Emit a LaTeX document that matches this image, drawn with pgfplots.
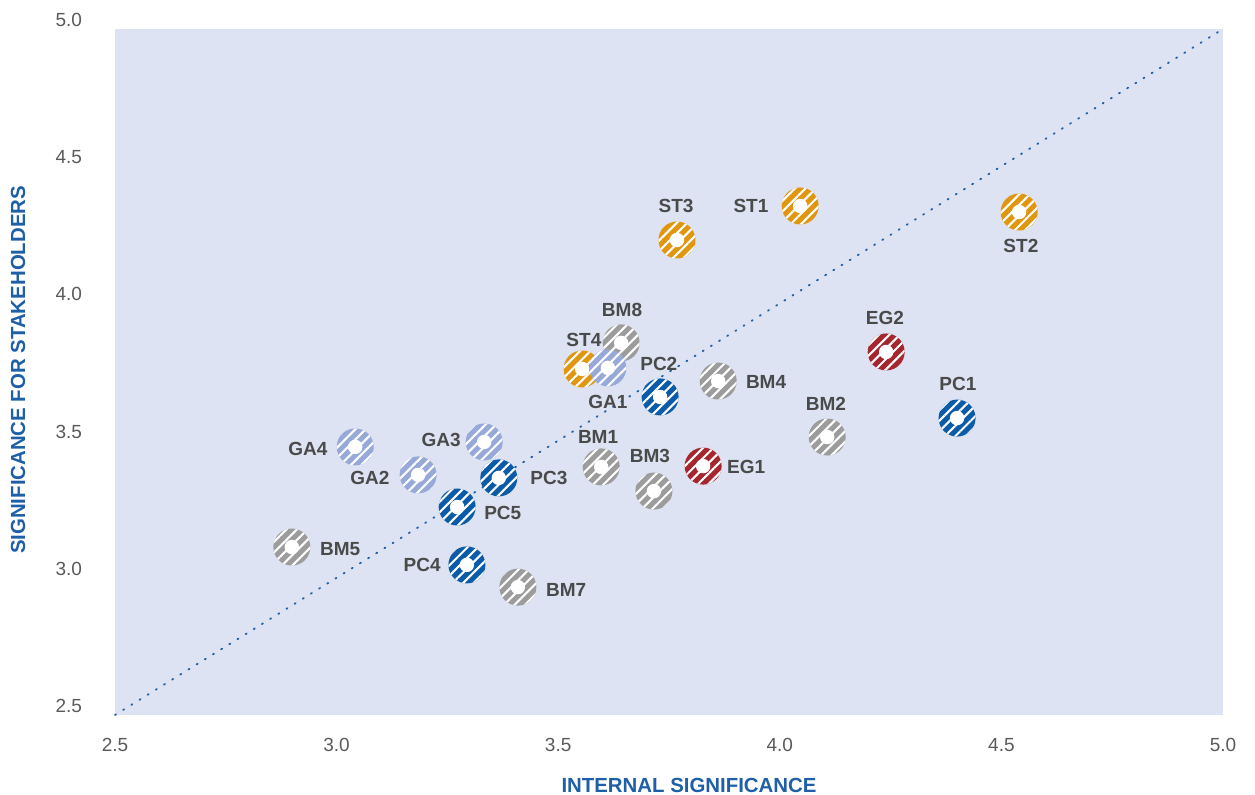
\documentclass[border=0pt]{standalone}
\usepackage{pgfplots}
\pgfplotsset{compat=1.18}
\usepackage{pgfplotstable}
\usepackage{fontspec}
\setmainfont{Liberation Sans}
\usetikzlibrary{patterns.meta}
\definecolor{bg}{HTML}{DDE3F2}
\definecolor{cST}{HTML}{E0960F}
\definecolor{cEG}{HTML}{A5262E}
\definecolor{cPC}{HTML}{0B5BA9}
\definecolor{cBM}{HTML}{9C9C9C}
\definecolor{cGA}{HTML}{96A9D9}
\definecolor{lblc}{HTML}{4A4A4A}
\definecolor{tickc}{HTML}{5A5A5A}
\definecolor{axc}{HTML}{1F5FA8}
\pgfdeclareplotmark{fc}{\pgfpathcircle{\pgfpointorigin}{\pgfplotmarksize}\pgfusepathqfill}
\pgfplotstableread{
x y
3.768 4.231
4.046 4.355
4.540 4.333
3.554 3.761
}\tST
\pgfplotstableread{
x y
3.642 3.856
3.861 3.717
4.107 3.513
3.597 3.404
3.716 3.316
2.899 3.112
3.409 2.966
}\tBM
\pgfplotstableread{
x y
4.240 3.823
3.827 3.407
}\tEG
\pgfplotstableread{
x y
3.612 3.765
3.042 3.477
3.333 3.495
3.184 3.375
}\tGA
\pgfplotstableread{
x y
4.400 3.582
3.730 3.659
3.366 3.364
3.272 3.258
3.294 3.047
}\tPC
\newcommand{\grp}[2]{%
 \addplot[only marks, mark=fc, mark size=9.25pt, mark options={fill=#2}] table {#1};
 \addplot[only marks, mark=fc, mark size=9.25pt, mark options={pattern={Lines[angle=45,distance=3.7pt,line width=1.05pt]}, pattern color=white}] table {#1};
 \addplot[only marks, mark=fc, mark size=3.6pt, mark options={fill=white}] table {#1};
}
\tikzset{lbl/.style={font=\fontsize{9.5}{11}\selectfont\bfseries, text=lblc}}
\begin{document}
\begin{tikzpicture}
\path[use as bounding box] (0,0) rectangle (627.5pt,397.5pt);
\begin{axis}[
  at={(57.5pt,40pt)}, anchor=south west,
  scale only axis, width=554pt, height=343pt,
  xmin=2.5, xmax=5, ymin=2.5, ymax=5,
  axis line style={draw=none},
  axis background/.style={fill=bg},
  major tick length=0pt,
  xtick={2.5,3,3.5,4,4.5,5}, ytick={2.5,3,3.5,4,4.5,5},
  /pgf/number format/.cd, fixed, fixed zerofill, precision=1, assume math mode=true,
  /pgfplots/.cd,
  tick label style={font=\fontsize{9.5}{11}\selectfont, text=tickc},
  xticklabel style={yshift=-8pt},
  yticklabel style={anchor=east, xshift=-13pt, yshift=4.5pt},
  clip=false,
]
\addplot[axc, line width=0.9pt, dash pattern=on 0.6pt off 4.2pt, line cap=round] coordinates {(2.5,2.5) (5,5)};
\grp{\tST}{cST}
\grp{\tBM}{cBM}
\grp{\tEG}{cEG}
\grp{\tGA}{cGA}
\grp{\tPC}{cPC}
\node[lbl] at (axis cs:3.766,4.355) {ST3};
\node[lbl] at (axis cs:3.935,4.355) {ST1};
\node[lbl] at (axis cs:4.544,4.209) {ST2};
\node[lbl] at (axis cs:4.237,3.947) {EG2};
\node[lbl] at (axis cs:4.402,3.706) {PC1};
\node[lbl] at (axis cs:3.644,3.976) {BM8};
\node[lbl] at (axis cs:3.558,3.867) {ST4};
\node[lbl] at (axis cs:3.727,3.779) {PC2};
\node[lbl] at (axis cs:3.612,3.641) {GA1};
\node[lbl] at (axis cs:3.969,3.714) {BM4};
\node[lbl] at (axis cs:4.104,3.633) {BM2};
\node[lbl] at (axis cs:2.935,3.469) {GA4};
\node[lbl] at (axis cs:3.236,3.502) {GA3};
\node[lbl] at (axis cs:3.075,3.364) {GA2};
\node[lbl] at (axis cs:3.479,3.364) {PC3};
\node[lbl] at (axis cs:3.590,3.513) {BM1};
\node[lbl] at (axis cs:3.707,3.444) {BM3};
\node[lbl] at (axis cs:3.924,3.404) {EG1};
\node[lbl] at (axis cs:3.375,3.236) {PC5};
\node[lbl] at (axis cs:3.008,3.105) {BM5};
\node[lbl] at (axis cs:3.193,3.047) {PC4};
\node[lbl] at (axis cs:3.518,2.956) {BM7};
\end{axis}
\node[font=\fontsize{10.2}{12}\selectfont\bfseries, text=axc] at (344.5pt,5pt) {INTERNAL SIGNIFICANCE};
\node[font=\fontsize{10.2}{12}\selectfont\bfseries, text=axc, rotate=90] at (9pt,212.5pt) {SIGNIFICANCE FOR STAKEHOLDERS};
\end{tikzpicture}
\end{document}
